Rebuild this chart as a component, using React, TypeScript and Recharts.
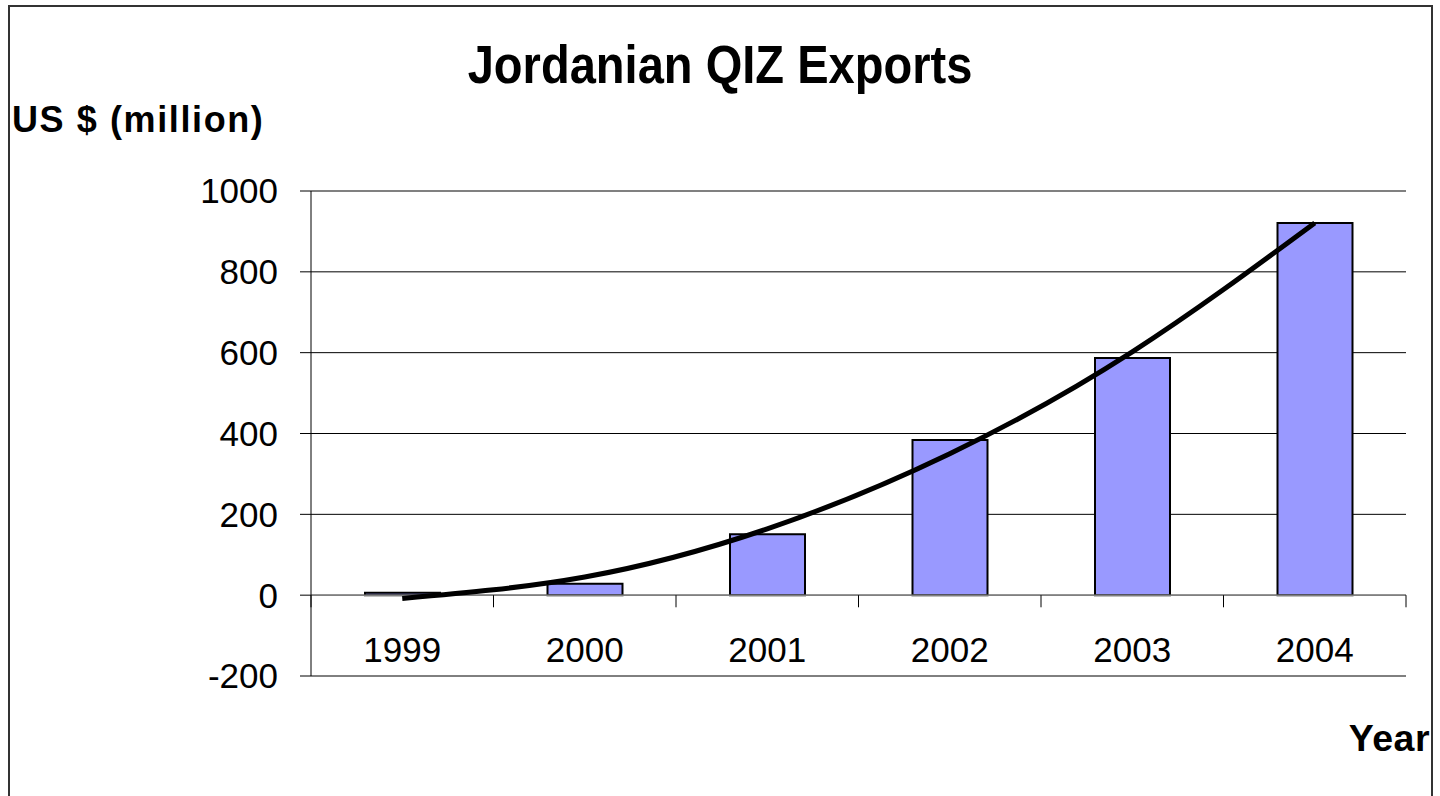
import React from 'react';
import { ComposedChart, Bar, Line, XAxis, YAxis, CartesianGrid, ReferenceLine } from 'recharts';

const years = ['1999', '2000', '2001', '2002', '2003', '2004'];
const exportsValues = [6, 28, 151, 384, 587, 921];
const trendValues = [-8, 45, 164, 350, 602, 921];
const yTicks = [-200, 0, 200, 400, 600, 800, 1000];
const categoryEdges = [0, 1, 2, 3, 4, 5, 6];

const data = years.map((year, i) => ({ year, slot: i + 0.5, exports: exportsValues[i], trend: trendValues[i] }));

const FONT = '"Liberation Sans", Arial, Helvetica, sans-serif';

const YearTick = (props: any) => {
  const { x, y, payload } = props;
  return (
    <text x={x} y={y} dy={-14} textAnchor="middle" fontSize={35} fontFamily={FONT} fill="#000">
      {payload.value}
    </text>
  );
};

export default function App() {
  return (
    <div style={{ position: 'absolute', left: 0, top: 0, width: 1440, height: 796, overflow: 'hidden', background: '#fff' }}>
      <div
        style={{
          position: 'absolute',
          left: 8,
          top: 5,
          width: 1425,
          height: 900,
          border: '2px solid #333',
          boxSizing: 'border-box',
        }}
      />
      <div style={{ position: 'absolute', left: 0, top: 0 }}>
        <ComposedChart
          width={1440}
          height={796}
          data={data}
          margin={{ top: 191, right: 34, left: 211, bottom: 90 }}
        >
          <CartesianGrid horizontal vertical={false} stroke="#000" strokeWidth={1} />
          <XAxis
            dataKey="year"
            type="category"
            height={30}
            axisLine={false}
            tickLine={false}
            tickSize={0}
            tickMargin={0}
            interval={0}
            tick={<YearTick />}
          />
          <XAxis
            xAxisId="edges"
            dataKey="slot"
            type="number"
            scale="linear"
            domain={[0, 6]}
            allowDataOverflow
            hide
          />
          <YAxis
            type="number"
            domain={[-200, 1000]}
            ticks={yTicks}
            interval={0}
            width={100}
            tickSize={11}
            tickMargin={22}
            axisLine={{ stroke: '#000', strokeWidth: 1 }}
            tickLine={{ stroke: '#000', strokeWidth: 1 }}
            tick={{ fontSize: 35, fill: '#000', fontFamily: FONT }}
            allowDataOverflow
          />
          <ReferenceLine y={1000} stroke="#808080" strokeWidth={1.5} />
          <ReferenceLine y={0} stroke="#808080" strokeWidth={1.5} />
          <Bar dataKey="exports" fill="#9999FF" stroke="#000" strokeWidth={2} barSize={75} isAnimationActive={false} />
          <Line
            dataKey="trend"
            type="natural"
            stroke="#000"
            strokeWidth={5}
            dot={false}
            activeDot={false}
            isAnimationActive={false}
          />
          {categoryEdges.map((e) => (
            <ReferenceLine
              key={e}
              xAxisId="edges"
              ifOverflow="visible"
              segment={[
                { x: e, y: 0 },
                { x: e, y: -30 },
              ]}
              stroke="#000"
              strokeWidth={1}
            />
          ))}
        </ComposedChart>
      </div>
      <div
        style={{
          position: 'absolute',
          left: 0,
          top: 38,
          width: 1440,
          textAlign: 'center',
          fontFamily: FONT,
          fontWeight: 'bold',
          fontSize: 53,
          lineHeight: '53px',
          transform: 'scaleX(0.888)',
          transformOrigin: '720.5px 50%',
          whiteSpace: 'nowrap',
        }}
      >
        Jordanian QIZ Exports
      </div>
      <div
        style={{
          position: 'absolute',
          left: 12,
          top: 101.5,
          fontFamily: FONT,
          fontWeight: 'bold',
          fontSize: 36,
          lineHeight: '36px',
          letterSpacing: 1.6,
          whiteSpace: 'nowrap',
        }}
      >
        US $ (million)
      </div>
      <div
        style={{
          position: 'absolute',
          right: 10,
          top: 720,
          fontFamily: FONT,
          fontWeight: 'bold',
          fontSize: 37.5,
          lineHeight: '37.5px',
          letterSpacing: 0.5,
          whiteSpace: 'nowrap',
        }}
      >
        Year
      </div>
    </div>
  );
}
